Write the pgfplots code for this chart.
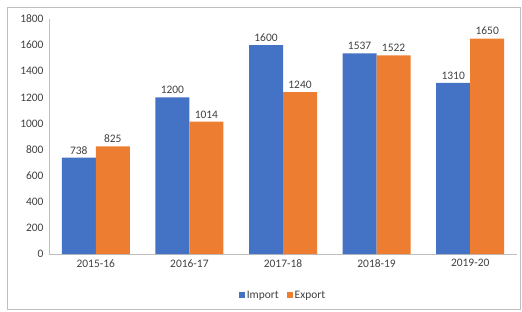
\documentclass[border=0pt]{standalone}
\usepackage{pgfplots}
\pgfplotsset{compat=1.18}
\usepackage{fontspec}
\setmainfont{Carlito}
\definecolor{impc}{HTML}{4472C4}
\definecolor{expc}{HTML}{ED7D31}
\definecolor{txt}{HTML}{404040}
\definecolor{axc}{HTML}{BFBFBF}
\begin{document}
\begin{tikzpicture}[x=1bp,y=1bp]
\useasboundingbox (0,0) rectangle (522,311);
\draw[axc,line width=0.6bp] (7,2) rectangle (520,304);
\begin{axis}[
  at={(49bp,57bp)}, anchor=south west,
  scale only axis, width=468bp, height=235bp,
  ybar=0pt, bar width=34bp,
  xmin=-0.5, xmax=4.5, ymin=0, ymax=1800,
  ytick={0,200,...,1800},
  xtick=data,
  xticklabels={2015-16,2016-17,2017-18,2018-19,2019-20},
  axis x line*=bottom, axis y line*=left,
  axis line style={axc},
  x axis line style={-}, y axis line style={-},
  major tick length=0pt,
  tick label style={font=\fontsize{11.5}{13}\selectfont, text=txt},
  yticklabel style={xshift=-2bp},
  xticklabel style={yshift=-2bp},
  /pgf/number format/assume math mode=true,
  /pgf/number format/1000 sep={},
  nodes near coords,
  every node near coord/.append style={font=\fontsize{11.5}{13}\selectfont, text=txt},
  legend style={at={(0.5,-0.175)}, anchor=center, draw=none, font=\fontsize{11.5}{13}\selectfont, text=txt, legend columns=2, /tikz/every even column/.append style={column sep=6bp}},
  legend image code/.code={\draw[#1,draw=none] (0bp,-3bp) rectangle (6bp,3bp);},
]
\addplot[fill=impc, draw=none] coordinates {(0,738) (1,1200) (2,1600) (3,1537) (4,1310)};
\addplot[fill=expc, draw=none] coordinates {(0,825) (1,1014) (2,1240) (3,1522) (4,1650)};
\legend{Import,Export}
\end{axis}
\end{tikzpicture}
\end{document}
